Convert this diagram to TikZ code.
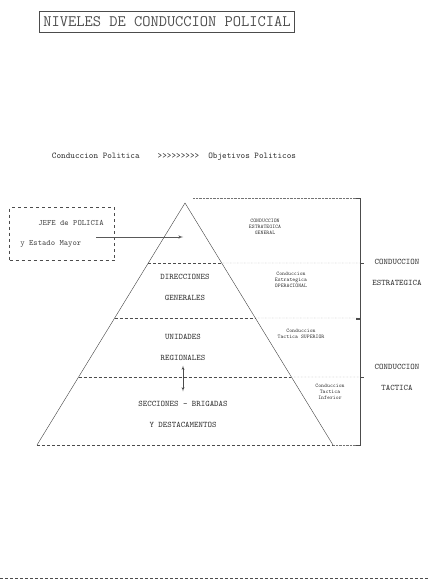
\documentclass[tikz,border=0pt]{standalone}
\usepackage{tikz}
\usetikzlibrary{arrows, positioning, calc}
\begin{document}
\begin{tikzpicture}[x=1pt, y=-1pt, >=latex', every node/.style={text=black!80}]
    \tikzstyle{level} = [align=center, font=\fontsize{8.5}{21}\selectfont\ttfamily]
    \tikzstyle{side} = [align=center, inner sep=0pt, font=\fontsize{5.5}{6}\selectfont\ttfamily]
    \tikzstyle{bracket} = [align=center, font=\fontsize{8.5}{21}\selectfont\ttfamily]
    \tikzstyle{divider} = [densely dashed, black!70]
    \tikzstyle{guide} = [densely dotted, black!55]
    \tikzstyle{arrow} = [semithick, ->, black!65]

    \useasboundingbox (0,0) rectangle (429,585);

    \node (title) [draw, black!70, semithick, inner sep=4pt, minimum height=21, font=\fontsize{16}{16}\selectfont\ttfamily] at (167,22) {NIVELES DE CONDUCCION POLICIAL};
    \node (politica) [font=\fontsize{8.8}{10}\selectfont\ttfamily] at (174,157) {Conduccion Politica\hspace{18pt}{>}{>}{>}{>}{>}{>}{>}{>}{>}\hspace{9pt}Objetivos Politicos};

    % piramide
    \coordinate (apex) at (185,203);
    \coordinate (baseL) at (37,445);
    \coordinate (baseR) at (333,445);
    \draw [black!75] (baseL) -- (apex) -- (baseR);
    \foreach \f/\y in {0.248/263, 0.475/318, 0.719/377} {
        \draw [divider] ($(apex)!\f!(baseL)$) -- ($(apex)!\f!(baseR)$);
        \draw [guide] ($(apex)!\f!(baseR)$) -- (360,\y);
    }
    \draw [divider, thick] (baseL) -- (baseR);
    \draw [guide] (baseR) -- (360,445);
    \draw [guide] (193,198) -- (360,198);

    % llaves
    \draw [black!70, semithick] (356,198) -- (360,198) -- (360,318) -- (356,318);
    \draw [black!70, semithick] (360,263) -- (364,263);
    \draw [black!70, semithick] (356,319) -- (360,319) -- (360,445) -- (356,445);
    \draw [black!70, semithick] (360,377) -- (364,377);

    \node (dirgen) [level] at (185,287) {DIRECCIONES\\GENERALES};
    \node (unireg) [level] at (183,347) {UNIDADES\\REGIONALES};
    \node (secc) [level] at (183,414) {SECCIONES - BRIGADAS\\Y DESTACAMENTOS};
    \draw [<->, black!70, shorten <=2pt, shorten >=6pt] (unireg.south) -- (secc.north);

    \node (estgen) [side] at (265,227) {CONDUCCION\\ESTRATEGICA\\GENERAL};
    \node (estop) [side] at (291,280) {Conduccion\\Estrategica\\OPERACIONAL};
    \node (tacsup) [side] at (301,334) {Conduccion\\Tactica SUPERIOR};
    \node (tacinf) [side] at (330,392) {Conduccion\\Tactica\\Inferior};

    \node (estrat) [bracket] at (397,272) {CONDUCCION\\ESTRATEGICA};
    \node (tactica) [bracket] at (397,377) {CONDUCCION\\TACTICA};

    % jefe
    \node (jefe) [draw, dashed, black!70, minimum width=105, minimum height=53, align=left, font=\fontsize{8.2}{20}\selectfont\ttfamily] at (62,234) {\hspace*{18pt}JEFE de POLICIA\\y Estado Mayor};
    \coordinate (jefeout) at (96,237);
    \coordinate (apexin) at (183,237);
    \draw [arrow] (jefeout) -- (apexin);

    \coordinate (footL) at (0,578);
    \coordinate (footR) at (429,578);
    \draw [divider] (footL) -- (footR);
\end{tikzpicture}
\end{document}
